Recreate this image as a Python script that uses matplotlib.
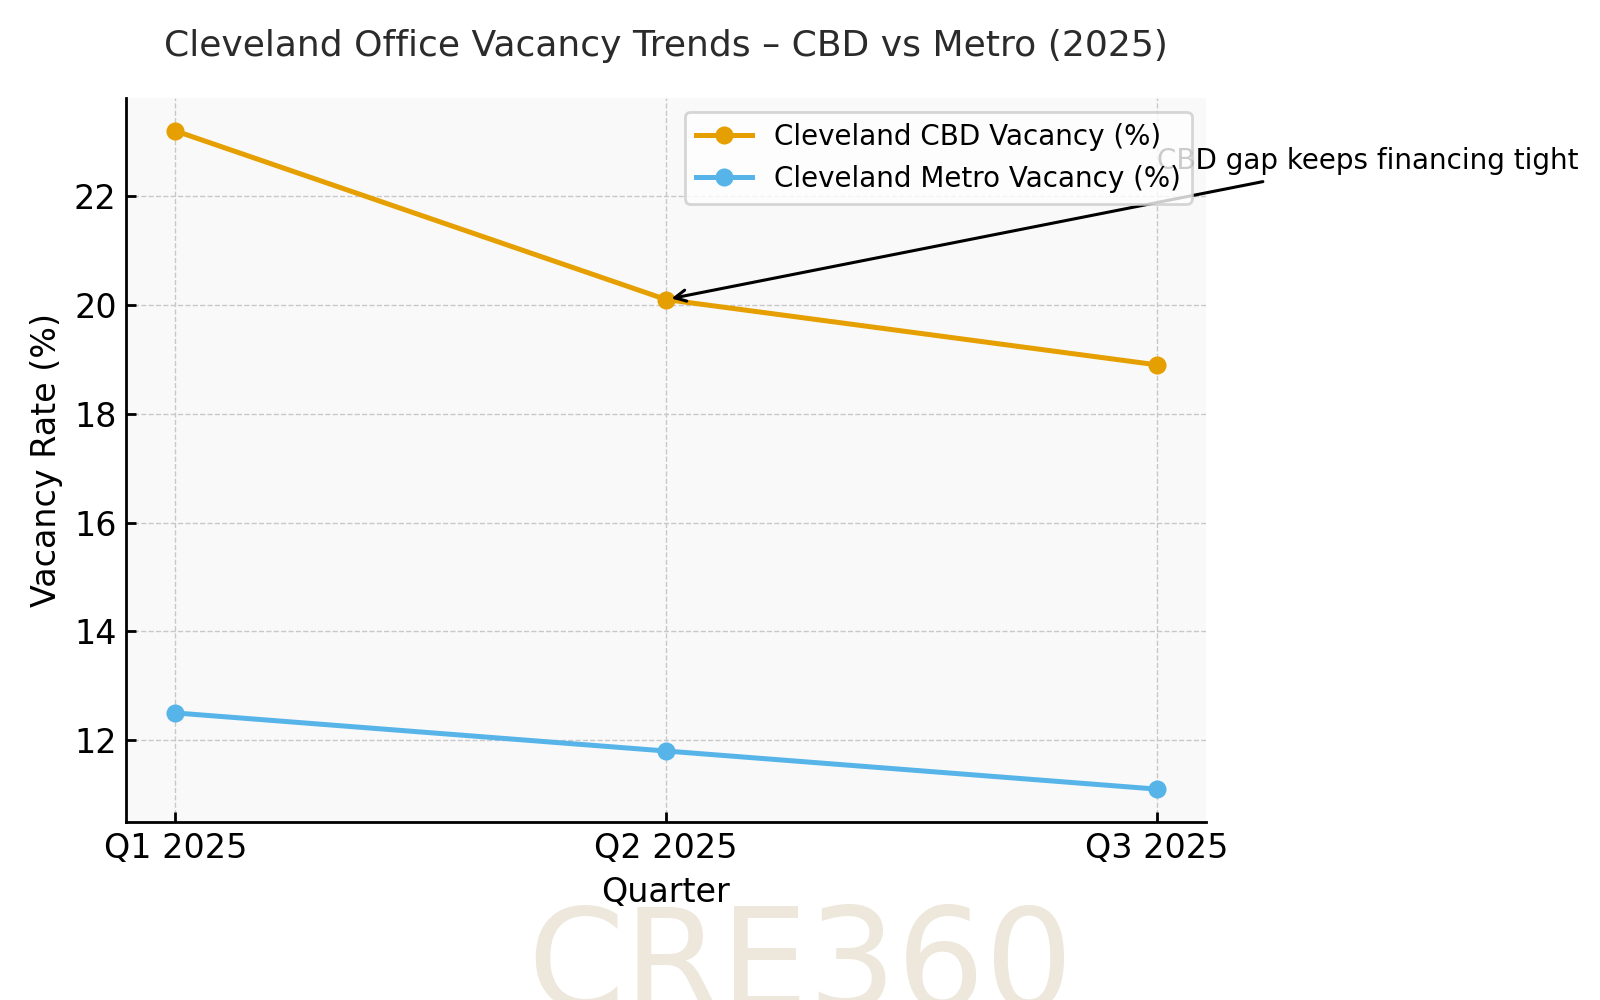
import matplotlib.pyplot as plt

quarters = ["Q1 2025", "Q2 2025", "Q3 2025"]
cbd_vacancy = [23.2, 20.1, 18.9]
metro_vacancy = [12.5, 11.8, 11.1]

fig, ax = plt.subplots(figsize=(8, 5), dpi=200)
fig.subplots_adjust(left=0.079, right=0.7535, bottom=0.178, top=0.902)

# watermark behind everything
fig.text(0.5, -0.008, "CRE360", fontsize=50, color="#ede7dc",
         ha="center", va="baseline", zorder=-1)

x = range(len(quarters))
ax.set_facecolor("#f9f9f9")
ax.plot(x, cbd_vacancy, color="#E69F00", linewidth=1.8, marker="o",
        markersize=5.5, label="Cleveland CBD Vacancy (%)")
ax.plot(x, metro_vacancy, color="#56B4E9", linewidth=1.8, marker="o",
        markersize=5.5, label="Cleveland Metro Vacancy (%)")

ax.set_xticks(list(x))
ax.set_xticklabels(quarters)
ax.tick_params(labelsize=12, direction="in", width=1.0)
ax.set_xlabel("Quarter", fontsize=12)
ax.set_ylabel("Vacancy Rate (%)", fontsize=12)
ax.set_title("Cleveland Office Vacancy Trends – CBD vs Metro (2025)",
             fontsize=13, color="#2b2b2b", pad=15)

ax.grid(True, linestyle="--", linewidth=0.5, color="#c8c8c8")
ax.spines["top"].set_visible(False)
ax.spines["right"].set_visible(False)
ax.spines["left"].set_linewidth(1.0)
ax.spines["bottom"].set_linewidth(1.0)

ax.legend(loc="upper right", fontsize=10)

ax.annotate("CBD gap keeps financing tight", xy=(1, cbd_vacancy[1]),
            xytext=(2.0, 22.5), fontsize=10,
            arrowprops=dict(arrowstyle="->", color="black", lw=1.1))

plt.savefig("out.png", dpi=200)
